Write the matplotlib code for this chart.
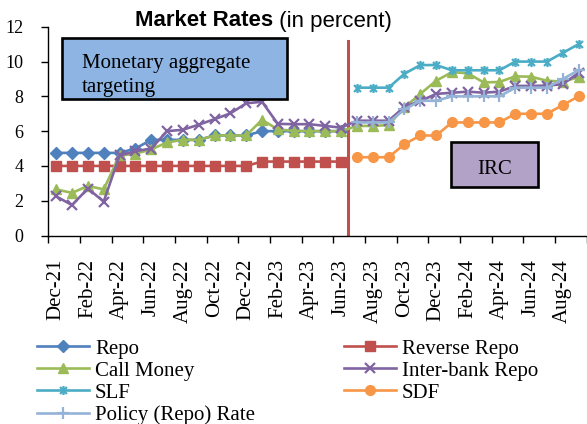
import numpy as np
import matplotlib
matplotlib.use('Agg')
import matplotlib.pyplot as plt
from matplotlib.path import Path
from matplotlib.patches import Rectangle

# ---------------- data ----------------
months = ['Dec-21', 'Jan-22', 'Feb-22', 'Mar-22', 'Apr-22', 'May-22', 'Jun-22',
          'Jul-22', 'Aug-22', 'Sep-22', 'Oct-22', 'Nov-22', 'Dec-22', 'Jan-23',
          'Feb-23', 'Mar-23', 'Apr-23', 'May-23', 'Jun-23', 'Jul-23', 'Aug-23',
          'Sep-23', 'Oct-23', 'Nov-23', 'Dec-23', 'Jan-24', 'Feb-24', 'Mar-24',
          'Apr-24', 'May-24', 'Jun-24', 'Jul-24', 'Aug-24', 'Sep-24']

# Dec-21 .. Jun-23 (monetary aggregate targeting period)
repo = [4.75, 4.75, 4.75, 4.75, 4.75, 5.0, 5.5, 5.5, 5.5, 5.5, 5.75, 5.75,
        5.75, 6.0, 6.0, 6.0, 6.0, 6.0, 6.0]
reverse_repo = [4.0, 4.0, 4.0, 4.0, 4.0, 4.0, 4.0, 4.0, 4.0, 4.0, 4.0, 4.0,
                4.0, 4.25, 4.25, 4.25, 4.25, 4.25, 4.25]

# full period Dec-21 .. Sep-24
call_money = [2.65, 2.45, 2.85, 2.65, 4.6, 4.7, 4.95, 5.35, 5.5, 5.5, 5.75, 5.75,
              5.75, 6.65, 6.1, 6.02, 6.0, 6.0, 6.0, 6.3, 6.3, 6.35, 7.37, 8.14,
              8.9, 9.39, 9.33, 8.8, 8.83, 9.15, 9.13, 8.9, 8.85, 9.1]
interbank_repo = [2.25, 1.75, 2.7, 1.95, 4.6, 4.85, 5.0, 6.0, 6.08, 6.37, 6.69, 7.02,
                  7.6, 7.69, 6.42, 6.4, 6.4, 6.3, 6.2, 6.6, 6.6, 6.6, 7.4, 7.73,
                  8.14, 8.21, 8.27, 8.21, 8.27, 8.6, 8.6, 8.62, 8.7, 9.35]

# Jul-23 .. Sep-24 (interest rate corridor period)
slf = [8.5, 8.5, 8.5, 9.3, 9.8, 9.8, 9.5, 9.5, 9.5, 9.5, 10.0, 10.0, 10.0, 10.5, 11.0]
sdf = [4.5, 4.5, 4.5, 5.25, 5.75, 5.75, 6.5, 6.5, 6.5, 6.5, 7.0, 7.0, 7.0, 7.5, 8.0]
policy_rate = [6.5, 6.5, 6.5, 7.25, 7.75, 7.75, 8.0, 8.0, 8.0, 8.0, 8.5, 8.5, 8.5,
               9.0, 9.5]

tick_labels = months[::2]
regime_break = 18.45   # between Jun-23 and Jul-23

# ---------------- figure ----------------
W_PX, H_PX = 587, 424
plt.rcParams['font.family'] = ['Liberation Serif', 'DejaVu Serif']
fig = plt.figure(figsize=(W_PX / 100, H_PX / 100), dpi=100)

def fx(px):
    return px / W_PX

def fy(py):
    return 1 - py / H_PX

ax_left, ax_right, ax_top, ax_bot = 48.3, 586.5, 26.8, 235.5
ax = fig.add_axes([fx(ax_left), fy(ax_bot), fx(ax_right - ax_left),
                   (ax_bot - ax_top) / H_PX])

N = len(months)
x = np.arange(N)
x_early = x[:len(repo)]
x_late = x[N - len(slf):]

star = Path([(-1, -1), (1, 1), (-1, 1), (1, -1), (0, -1.3), (0, 1.3)],
            [Path.MOVETO, Path.LINETO, Path.MOVETO, Path.LINETO, Path.MOVETO, Path.LINETO])

lw = 1.9
h_repo, = ax.plot(x_early, repo, color='#4F81BD', lw=lw, marker='D', ms=6, label='Repo')
h_rr, = ax.plot(x_early, reverse_repo, color='#C0504D', lw=lw, marker='s', ms=6.5,
                label='Reverse Repo')
h_cm, = ax.plot(x, call_money, color='#9BBB59', lw=lw, marker='^', ms=7.5, label='Call Money')
h_ib, = ax.plot(x, interbank_repo, color='#8064A2', lw=lw, marker='x', ms=6.5, mew=1.6,
                label='Inter-bank Repo')
h_slf, = ax.plot(x_late, slf, color='#4BACC6', lw=lw, marker=star, ms=6.5, mew=1.6,
                 label='SLF')
h_sdf, = ax.plot(x_late, sdf, color='#F79646', lw=lw, marker='o', ms=7, label='SDF')
h_pol, = ax.plot(x_late, policy_rate, color='#95B3D7', lw=lw, marker='+', ms=8, mew=1.6,
                 label='Policy (Repo) Rate')

ax.axvline(regime_break, ymin=0, ymax=11.2 / 12, color='#C0504D', lw=2.2, zorder=1)

ax.set_xlim(-0.5, N - 0.5)
ax.set_ylim(0, 12)
for s in ('top', 'right'):
    ax.spines[s].set_visible(False)
for s in ('left', 'bottom'):
    ax.spines[s].set_linewidth(1.0)
    ax.spines[s].set_color('black')

ax.set_yticks(np.arange(0, 13, 2))
ax.tick_params(axis='y', direction='out', length=5, width=1, pad=13, labelsize=13)
ax.set_xticks(np.arange(-0.5, N, 2))
ax.set_xticklabels([])
ax.tick_params(axis='x', which='major', direction='out', length=5, width=1)
ax.set_xticks(x[::2], minor=True)
ax.set_xticklabels(tick_labels, minor=True, rotation=90)
ax.tick_params(axis='x', which='minor', length=0, pad=17, labelsize=15)

# ---------------- annotation boxes ----------------
def box(x0, y0, x1, y1, color):
    r = Rectangle((fx(x0), fy(y1)), fx(x1 - x0), (y1 - y0) / H_PX,
                  transform=fig.transFigure, facecolor=color, edgecolor='black',
                  lw=1.9, zorder=5)
    fig.add_artist(r)

box(61.7, 38.3, 287.3, 99.0, '#8DB4E2')
fig.text(fx(81.7), fy(68.3), 'Monetary aggregate', fontsize=15, va='baseline',
         ha='left', zorder=6)
fig.text(fx(81.7), fy(91.7), 'targeting', fontsize=15, va='baseline', ha='left', zorder=6)

box(451.0, 141.7, 537.7, 186.7, '#B3A2C7')
fig.text(fx(494.3), fy(174.0), 'IRC', fontsize=15, va='baseline', ha='center', zorder=6)

# ---------------- title ----------------
t1 = fig.text(fx(135), fy(26.5), 'Market Rates', fontsize=16, fontweight='bold',
              family='Liberation Sans', ha='left', va='baseline')
fig.canvas.draw()
bb = t1.get_window_extent()
fig.text(bb.x1 / W_PX, fy(26.5), ' (in percent)', fontsize=16, family='Liberation Sans',
         ha='left', va='baseline')

# ---------------- legend ----------------
leg_kw = dict(frameon=False, fontsize=15, handlelength=2.5, handletextpad=0.27,
              labelspacing=0.12, borderpad=0, borderaxespad=0, loc='upper left')
leg1 = fig.legend(handles=[h_repo, h_cm, h_slf, h_pol],
                  bbox_to_anchor=(fx(37.4), fy(339)), **leg_kw)
leg2 = fig.legend(handles=[h_rr, h_ib, h_sdf],
                  bbox_to_anchor=(fx(344.4), fy(339)), **leg_kw)

fig.savefig('out.png', dpi=100)
